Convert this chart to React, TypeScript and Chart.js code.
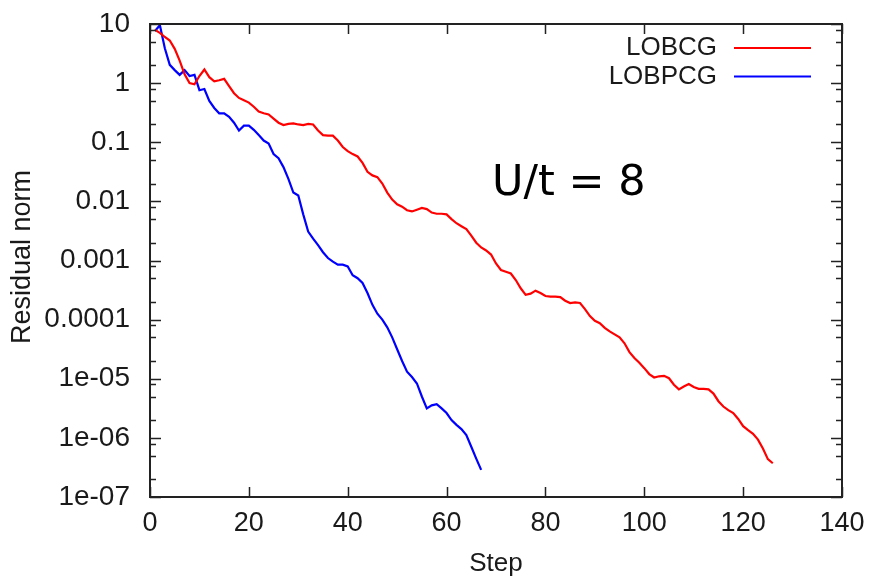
import React, { useEffect, useRef } from "react";
import { Chart, registerables } from "chart.js";

Chart.register(...registerables);

// LOBCG residual norm per step (steps 1..126)
const lobcgResidual = [
  7.94, 7.08, 6.03, 5.25, 3.8, 2.4, 1.41, 1.0, 0.955, 1.32,
  1.7, 1.26, 1.07, 1.12, 1.18, 0.891, 0.676, 0.562, 0.513, 0.468,
  0.398, 0.331, 0.309, 0.295, 0.251, 0.214, 0.195, 0.204, 0.209, 0.2,
  0.195, 0.204, 0.2, 0.158, 0.132, 0.129, 0.129, 0.107, 0.0832, 0.0708,
  0.0631, 0.0575, 0.0447, 0.0316, 0.0275, 0.0257, 0.02, 0.0141, 0.0107, 0.00891,
  0.00813, 0.00708, 0.00676, 0.00724, 0.00776, 0.00741, 0.00646, 0.00617, 0.00617, 0.00603,
  0.00501, 0.00427, 0.0038, 0.00339, 0.00263, 0.002, 0.00166, 0.00148, 0.00126, 8.91e-4,
  6.92e-4, 6.46e-4, 6.03e-4, 4.68e-4, 3.39e-4, 2.63e-4, 2.75e-4, 3.09e-4, 2.82e-4, 2.51e-4,
  2.45e-4, 2.45e-4, 2.4e-4, 2.09e-4, 1.91e-4, 1.95e-4, 1.91e-4, 1.51e-4, 1.15e-4, 9.55e-5,
  8.71e-5, 7.24e-5, 6.31e-5, 5.62e-5, 5.01e-5, 3.98e-5, 2.82e-5, 2.24e-5, 1.86e-5, 1.51e-5,
  1.2e-5, 1.05e-5, 1.1e-5, 1.12e-5, 1.02e-5, 7.94e-6, 6.61e-6, 7.41e-6, 8.13e-6, 7.24e-6,
  6.76e-6, 6.76e-6, 6.61e-6, 5.62e-6, 4.17e-6, 3.39e-6, 2.95e-6, 2.63e-6, 2.09e-6, 1.58e-6,
  1.35e-6, 1.17e-6, 9.33e-7, 6.61e-7, 4.37e-7, 3.72e-7,
];

// LOBPCG residual norm per step (steps 1..67)
const lobpcgResidual = [
  7.59, 9.55, 3.89, 2.04, 1.66, 1.38, 1.66, 1.32, 1.38, 0.759,
  0.794, 0.501, 0.38, 0.309, 0.309, 0.269, 0.214, 0.158, 0.191, 0.191,
  0.162, 0.132, 0.107, 0.0955, 0.0631, 0.0537, 0.038, 0.024, 0.0141, 0.0126,
  0.00603, 0.00309, 0.00234, 0.00182, 0.00138, 0.0011, 9.55e-4, 8.51e-4, 8.51e-4, 7.94e-4,
  5.62e-4, 5.01e-4, 4.17e-4, 2.82e-4, 1.78e-4, 1.26e-4, 1.0e-4, 7.41e-5, 5.01e-5, 3.16e-5,
  2.0e-5, 1.32e-5, 1.07e-5, 8.32e-6, 5.01e-6, 3.16e-6, 3.55e-6, 3.72e-6, 3.16e-6, 2.63e-6,
  2.0e-6, 1.66e-6, 1.41e-6, 1.12e-6, 7.08e-7, 4.47e-7, 2.88e-7,
];

const seriesLabels = ["LOBCG", "LOBPCG"];
const seriesColors = ["#ff0000", "#0000ff"];

const xTickValues = [0, 20, 40, 60, 80, 100, 120, 140];
const yTickValues = [10, 1, 0.1, 0.01, 0.001, 0.0001, 1e-5, 1e-6, 1e-7];
const yTickLabels = ["10", "1", "0.1", "0.01", "0.001", "0.0001", "1e-05", "1e-06", "1e-07"];
const yMinorFactors = [2, 5, 8];

const xTitle = "Step";
const yTitle = "Residual norm";
const annotation = "U/t = 8";

const TEXT = "#1a1a1a";
const FRAME = "#222222";
const SANS = '"Liberation Sans", Arial, sans-serif';

const framePlugin = {
  id: "gnuplotFrame",
  afterDraw(chart: any) {
    const { ctx, chartArea: a, scales } = chart;
    const xs = scales.x;
    const ys = scales.y;
    ctx.save();
    // ticks
    ctx.strokeStyle = FRAME;
    ctx.lineWidth = 1.5;
    ctx.beginPath();
    xTickValues.forEach((v) => {
      const px = Math.round(xs.getPixelForValue(v)) + 0.5;
      ctx.moveTo(px, a.bottom);
      ctx.lineTo(px, a.bottom - 10);
      ctx.moveTo(px, a.top);
      ctx.lineTo(px, a.top + 10);
    });
    yTickValues.forEach((v) => {
      const py = Math.round(ys.getPixelForValue(v)) + 0.5;
      ctx.moveTo(a.left, py);
      ctx.lineTo(a.left + 11, py);
      ctx.moveTo(a.right, py);
      ctx.lineTo(a.right - 11, py);
      yMinorFactors.forEach((f) => {
        const mv = v * f;
        if (mv >= 10 + 1e-9) return;
        const my = Math.round(ys.getPixelForValue(mv)) + 0.5;
        ctx.moveTo(a.left, my);
        ctx.lineTo(a.left + 6, my);
        ctx.moveTo(a.right, my);
        ctx.lineTo(a.right - 6, my);
      });
    });
    ctx.stroke();
    // frame
    ctx.lineWidth = 2;
    ctx.strokeRect(a.left, a.top, a.right - a.left, a.bottom - a.top);

    // legend
    ctx.font = `26px ${SANS}`;
    ctx.textAlign = "right";
    ctx.textBaseline = "middle";
    chart.data.datasets.forEach((ds: any, i: number) => {
      const y = 48 + i * 28.5;
      ctx.fillStyle = TEXT;
      ctx.fillText(ds.label, 717, y);
      ctx.strokeStyle = ds.borderColor;
      ctx.lineWidth = 2;
      ctx.beginPath();
      ctx.moveTo(734, y);
      ctx.lineTo(811, y);
      ctx.stroke();
    });

    // axis titles
    ctx.fillStyle = TEXT;
    ctx.textAlign = "center";
    ctx.font = `26px ${SANS}`;
    ctx.fillText(xTitle, 496, 564);
    ctx.save();
    ctx.translate(23, 257);
    ctx.rotate(-Math.PI / 2);
    ctx.font = `27px ${SANS}`;
    ctx.fillText(yTitle, 0, 0);
    ctx.restore();

    // annotation
    ctx.fillStyle = "#000";
    ctx.textAlign = "left";
    ctx.font = `43px "DejaVu Sans", sans-serif`;
    ctx.fillText(annotation, 492, 184);
    ctx.restore();
  },
};

export default function App() {
  const ref = useRef<HTMLCanvasElement | null>(null);
  useEffect(() => {
    document.body.style.margin = "0";
    if (!ref.current) return;
    const chart = new Chart(ref.current, {
      type: "line",
      data: {
        datasets: [
          {
            label: seriesLabels[0],
            data: lobcgResidual.map((v, i) => ({ x: i + 1, y: v })),
            borderColor: seriesColors[0],
            borderWidth: 2.2,
            pointRadius: 0,
            tension: 0,
            fill: false,
          },
          {
            label: seriesLabels[1],
            data: lobpcgResidual.map((v, i) => ({ x: i + 1, y: v })),
            borderColor: seriesColors[1],
            borderWidth: 2.2,
            pointRadius: 0,
            tension: 0,
            fill: false,
          },
        ],
      },
      options: {
        animation: false,
        responsive: true,
        maintainAspectRatio: false,
        layout: { padding: { left: 0, top: 24, right: 31, bottom: 0 } },
        plugins: { legend: { display: false }, tooltip: { enabled: false } },
        scales: {
          x: {
            type: "linear",
            min: 0,
            max: 140,
            grid: { display: false, drawTicks: false },
            border: { display: false },
            afterFit: (s: any) => {
              s.height = 81;
              s.paddingLeft = 0;
              s.paddingRight = 0;
            },
            afterBuildTicks: (s: any) => {
              s.ticks = xTickValues.map((v) => ({ value: v }));
            },
            ticks: {
              padding: 10,
              color: TEXT,
              font: { family: SANS, size: 27 },
              maxRotation: 0,
              callback: (v: any) => String(v),
            },
          },
          y: {
            type: "logarithmic",
            min: 1e-7,
            max: 10,
            grid: { display: false, drawTicks: false },
            border: { display: false },
            afterFit: (s: any) => {
              s.width = 150;
              s.paddingTop = 0;
              s.paddingBottom = 0;
            },
            afterBuildTicks: (s: any) => {
              s.ticks = yTickValues.map((v) => ({ value: v, major: true }));
            },
            ticks: {
              padding: 20,
              color: TEXT,
              font: { family: SANS, size: 28 },
              autoSkip: false,
              callback: (v: any) => {
                const idx = yTickValues.findIndex((t) => Math.abs(Math.log10(t) - Math.log10(v)) < 1e-6);
                return idx >= 0 ? yTickLabels[idx] : "";
              },
            },
          },
        },
      },
      plugins: [framePlugin],
    } as any);
    return () => chart.destroy();
  }, []);
  return (
    <div style={{ position: "absolute", left: 0, top: 0, width: 873, height: 578, background: "#fff" }}>
      <canvas ref={ref} />
    </div>
  );
}
